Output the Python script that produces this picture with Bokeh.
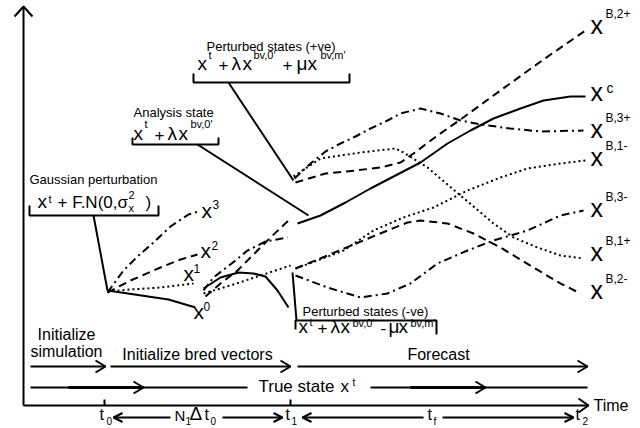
from bokeh.plotting import figure
from bokeh.models import Range1d
from bokeh.core.properties import value
from bokeh.embed import file_html
from bokeh.resources import INLINE

FONT = "Liberation Sans"

# ---------------- curve data (schematic trajectories) ----------------
# phase 1: initial Gaussian perturbations from t0
x3_x = [107, 115, 123, 137, 153, 170, 188, 198]
x3_y = [292, 281, 270, 256, 242, 226, 214, 211]
x2_x = [107, 130, 160, 180, 197]
x2_y = [292, 280, 267, 259, 254]
x1_x = [107, 130, 160, 193]
x1_y = [291, 289, 287, 283]
x0_x = [107, 168, 195]
x0_y = [290, 299, 307]

# phase 2: breeding cycle
b_solid_x = [203, 220, 238, 253, 265, 277, 288]
b_solid_y = [288, 277, 272, 273, 276, 290, 307]
b_dot_x = [203, 230, 260, 290]
b_dot_y = [293, 285, 275, 265]
b_dash_x = [205, 220, 237, 257, 270, 290]
b_dash_y = [296, 283, 270, 250, 237, 218]
b_dd_x = [203, 213, 235, 247, 265, 287]
b_dd_y = [290, 277, 260, 250, 241, 237]

# phase 3: forecast
xc_x = [297, 320, 345, 370, 395, 420, 447, 470, 493, 520, 543, 570, 585]
xc_y = [223, 215, 202, 188, 175, 162, 143, 130, 118, 108, 100, 96, 96]
b2p_x = [295, 325, 355, 380, 400, 413, 437, 460, 493, 543, 585]
b2p_y = [182, 173, 170, 167, 162, 153, 135, 119, 95, 59, 30]
b3p_x = [294, 310, 325, 340, 355, 370, 387, 400, 420, 440, 460, 480, 510, 540, 583]
b3p_y = [178, 163, 151, 143, 136, 128, 120, 113, 108, 113, 120, 124, 128, 131, 130]
b1p_x = [293, 320, 360, 395, 403, 427, 460, 493, 513, 537, 560, 583]
b1p_y = [176, 158, 152, 148, 152, 167, 195, 223, 237, 247, 255, 258]
b1m_x = [295, 317, 343, 373, 403, 433, 467, 500, 527, 560, 585]
b1m_y = [268, 260, 250, 230, 217, 207, 190, 177, 168, 163, 160]
b2m_x = [295, 327, 370, 407, 420, 447, 473, 500, 533, 560, 580]
b2m_y = [268, 255, 237, 222, 220, 223, 233, 247, 267, 283, 293]
b3m_x = [295, 327, 360, 387, 410, 437, 467, 493, 527, 560, 583]
b3m_y = [275, 287, 297, 293, 283, 263, 250, 240, 230, 215, 210]

# right-hand labels: superscripts and label baselines
right_sups = ["B,2+", "c", "B,3+", "B,1-", "B,3-", "B,1+", "B,2-"]
right_base = [33, 100, 137, 165, 216, 260, 298]

DASH = "8 5"
DOT = "2 3"
DASHDOT = "8 4 2 4"

p = figure(width=640, height=428, x_range=Range1d(0, 640), y_range=Range1d(428, 0),
           output_backend="svg", toolbar_location=None,
           x_axis_location=None, y_axis_location=None, min_border=0)
p.grid.visible = False
p.outline_line_color = None
p.background_fill_color = "white"
p.border_fill_color = "white"

BASE_SHIFT = 0.35  # renderer places the alphabetic baseline this many em lower


def T(x, y, s, size, align="left"):
    p.text(x=[x], y=[y - BASE_SHIFT * size], text=[s], text_font=value(FONT),
           text_font_size=f"{size}px", text_baseline="alphabetic", text_align=align,
           text_color="black")


def L(xs, ys, dash="solid", w=2):
    p.line(xs, ys, line_color="black", line_width=w, line_dash=dash)


def chevron(tx, ty, dx, dy, ln=10, hw=6, w=2):
    nx, ny = -dy, dx
    bx, by = tx - ln * dx, ty - ln * dy
    p.line([bx + hw * nx, tx, bx - hw * nx], [by + hw * ny, ty, by - hw * ny],
           line_color="black", line_width=w)


# ---------------- axes ----------------
L([23, 23], [405, 7])
chevron(23, 6, 0, -1, 10, 9)
L([23, 588], [405, 405])
chevron(588, 405, 1, 0, 10, 7)
L([104, 104], [399, 405])
L([290, 290], [399, 405])
T(593, 411, "Time", 16)

# ---------------- curves ----------------
L(x3_x, x3_y, DASHDOT)
L(x2_x, x2_y, DASH)
L(x1_x, x1_y, DOT)
L(x0_x, x0_y)
L(b_solid_x, b_solid_y)
L(b_dot_x, b_dot_y, DOT)
L(b_dash_x, b_dash_y, DASH)
L(b_dd_x, b_dd_y, DASHDOT)
L(xc_x, xc_y)
L(b2p_x, b2p_y, DASH)
L(b3p_x, b3p_y, DASHDOT)
L(b1p_x, b1p_y, DOT)
L(b1m_x, b1m_y, DOT)
L(b2m_x, b2m_y, DASH)
L(b3m_x, b3m_y, DASHDOT)

# curve labels (left)
for lx, lb, sx, sb, s in [(201, 217, 212, 208, "3"), (200, 257, 211, 249, "2"),
                          (183, 280, 193, 272, "1"), (193, 318, 203, 310, "0")]:
    T(lx, lb, "x", 21)
    T(sx, sb, s, 12)

# curve labels (right)
for s, b in zip(right_sups, right_base):
    T(590, b, "x", 25)
    if s == "c":
        T(606, b - 8, s, 14)
    else:
        T(605, b - 15, s, 12)

# ---------------- annotation boxes ----------------
# Gaussian perturbation
T(29, 184, "Gaussian perturbation", 13)
T(37, 208, "x", 19)
T(48, 202, "t", 11)
T(57, 208, "+ F.N(0,σ", 17)
T(128, 198, "2", 11)
T(128, 211, "x", 11)
T(145, 208, ")", 17)
L([29, 29, 158, 158], [205, 215, 215, 205])
L([93, 107], [215, 290])

# Analysis state
T(133, 117, "Analysis state", 13)
T(133, 140, "x", 19)
T(144, 127, "t", 11)
T(154, 140, "+", 17)
T(167, 140, "λ", 19)
T(178, 140, "x", 19)
T(190, 127, "bv,0'", 11)
L([132, 132, 218, 218], [137, 144, 144, 137])
L([197, 308], [144, 215])

# Perturbed states (+ve)
T(206, 51, "Perturbed states (+ve)", 13)
T(197, 70, "x", 19)
T(208, 58, "t", 11)
T(218, 70, "+", 17)
T(231, 70, "λ", 19)
T(242, 70, "x", 19)
T(253, 58, "bv,0'", 11)
T(282, 70, "+", 17)
T(296, 70, "μ", 19)
T(307, 70, "x", 19)
T(320, 58, "bv,m'", 11)
L([193, 193, 349, 349], [73, 82, 82, 73])
L([228, 293], [82, 180])

# Perturbed states (-ve)
T(302, 316, "Perturbed states (-ve)", 13)
T(298, 333, "x", 19)
T(309, 325, "t", 11)
T(317, 333, "+", 17)
T(330, 333, "λ", 19)
T(340, 333, "x", 19)
T(352, 326, "bv,0'", 11)
T(380, 333, "-", 17)
T(388, 333, "μ", 19)
T(398, 333, "x", 19)
T(410, 326, "bv,m'", 11)
L([295, 295, 436, 436], [329, 320, 320, 334])
L([292, 296], [272, 320])

# ---------------- process arrows ----------------
T(66, 340, "Initialize", 16, "center")
T(66, 357, "simulation", 16, "center")
T(197, 360, "Initialize bred vectors", 16, "center")
T(438, 360, "Forecast", 16, "center")
L([30, 105], [366, 366]); chevron(105, 366, 1, 0)
L([110, 290], [366, 366]); chevron(290, 366, 1, 0)
L([297, 587], [366, 366]); chevron(587, 366, 1, 0)

T(258, 392, "True state", 17)
T(340, 392, "x", 17)
T(352, 385, "t", 10)
L([30, 247], [387, 387]); L([68, 143], [387, 387], w=3); chevron(143, 387, 1, 0)
L([370, 587], [387, 387]); L([410, 485], [387, 387], w=3); chevron(485, 387, 1, 0)

# ---------------- time intervals ----------------
T(99, 420, "t", 16); T(106, 424, "0", 10)
L([113, 170], [417, 417]); chevron(113, 417, -1, 0, 9, 4.5)
T(174, 420, "N", 15); T(185, 424, "1", 10)
T(189, 420, "Δ", 19); T(204, 420, "t", 16); T(210, 424, "0", 10)
L([222, 282], [417, 417]); chevron(282, 417, 1, 0, 9, 4.5)
T(285, 420, "t", 16); T(291, 424, "1", 10)
L([302, 423], [417, 417]); chevron(302, 417, -1, 0, 9, 4.5)
T(427, 420, "t", 16); T(433, 424, "f", 10)
L([442, 573], [417, 417]); chevron(573, 417, 1, 0, 9, 4.5)
T(575, 420, "t", 16); T(582, 424, "2", 10)

open("out.html", "w").write(file_html(p, INLINE))
